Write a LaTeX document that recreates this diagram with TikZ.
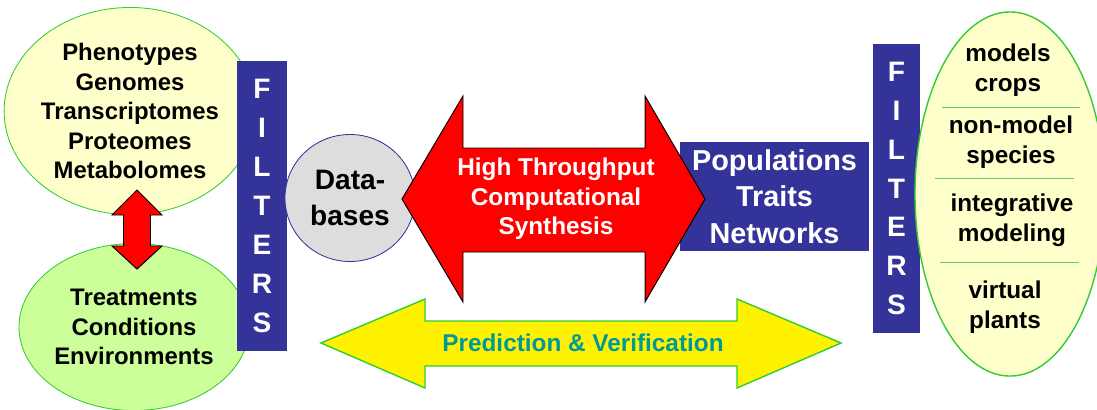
\documentclass[tikz,border=0pt]{standalone}
\usepackage{fontspec}
\setmainfont{Liberation Sans}
\usepackage{xcolor}
\usepackage{tikz}
\usetikzlibrary{shapes.geometric}

\definecolor{filterblue}{HTML}{333399}
\definecolor{leafgreen}{HTML}{33CC33}
\definecolor{rulegreen}{HTML}{66CC66}
\definecolor{paleyellow}{HTML}{FFFFCC}
\definecolor{palegreen}{HTML}{CCFF99}
\definecolor{dbgray}{HTML}{DDDDDD}
\definecolor{tealtext}{HTML}{009999}

\tikzset{
  omics/.style={ellipse, draw=leafgreen, line width=0.6pt, align=center, inner sep=0pt,
                font=\bfseries\fontsize{17}{21}\selectfont},
  filterbar/.style={fill=filterblue, text=white, align=center, inner sep=0pt,
                    font=\bfseries\fontsize{20}{27.7}\selectfont},
  bigtxt/.style={align=center, inner sep=0pt, font=\bfseries\fontsize{17.3}{21}\selectfont},
  blockarrow/.style={line width=0.7pt, line join=miter},
  splitline/.style={rulegreen, line width=0.6pt},
}

\begin{document}
\begin{tikzpicture}[x=0.025cm, y=-0.025cm]
  \useasboundingbox (0,0) rectangle (1097,409);

  % data sources on the left
  \node[omics, fill=paleyellow, minimum width=6.1cm, minimum height=5.175cm] (omic) at (130,111)
        {Phenotypes\\Genomes\\Transcriptomes\\Proteomes\\Metabolomes};
  \node[omics, fill=palegreen, minimum width=5.75cm, minimum height=4.175cm] (env) at (134,327)
        {Treatments\\Conditions\\Environments};
  % up-down arrow between them
  \draw[blockarrow, fill=red, draw=black] (137,190) -- (162,215) -- (150.5,215) -- (150.5,246)
        -- (162,246) -- (137,269) -- (112,246) -- (123.5,246) -- (123.5,215) -- (112,215) -- cycle;
  \node[filterbar, minimum width=1.25cm, minimum height=7.25cm] (filtL) at (262,206)
        {F\\I\\L\\T\\E\\R\\S};

  % databases and the synthesis step
  \node[ellipse, draw=filterblue, line width=0.6pt, fill=dbgray, minimum width=3.25cm,
        minimum height=3.175cm, inner sep=0pt, align=center,
        font=\bfseries\fontsize{20}{26}\selectfont] (db) at (350,198) {Data-\\bases};
  \node[fill=filterblue, text=white, minimum width=4.725cm, minimum height=2.725cm, inner sep=0pt,
        align=center, font=\bfseries\fontsize{20.5}{26}\selectfont] (pop) at (774.5,196.5)
        {Populations\\Traits\\Networks};
  \draw[blockarrow, fill=red, draw=black] (402,199) -- (463,96) -- (463,148) -- (645,148)
        -- (645,96) -- (705,199) -- (645,302) -- (645,252) -- (463,252) -- (463,302) -- cycle;
  \node[bigtxt, text=white] (synth) at (556,199) {High Throughput\\Computational\\Synthesis};

  % prediction loop
  \draw[blockarrow, fill=yellow, draw=leafgreen, line width=1pt] (321,343) -- (425,299)
        -- (425,321) -- (737,321) -- (737,299) -- (841,343) -- (737,388) -- (737,366)
        -- (425,366) -- (425,388) -- cycle;
  \node[bigtxt, text=tealtext] (predver) at (583,343) {Prediction \& Verification};

  % outputs on the right
  \node[filterbar, minimum width=1.175cm, minimum height=7.225cm] (filtR) at (896.5,188.5)
        {F\\I\\L\\T\\E\\R\\S};
  \node[omics, fill=paleyellow, line width=1pt, minimum width=4.75cm, minimum height=9.1cm] (use)
        at (1010,194) {};
  \draw[splitline] (942,107) -- (1080,107);
  \draw[splitline] (935,178) -- (1074,178);
  \draw[splitline] (940,262) -- (1079,262);
  \node[bigtxt] (crops) at (1008,70) {models\\crops};
  \node[bigtxt] (nonmod) at (1011,142) {non-model\\species};
  \node[bigtxt] (integ) at (1012,220) {integrative\\modeling};
  \node[bigtxt] (virt) at (1005,307) {virtual\\plants};
\end{tikzpicture}
\end{document}
